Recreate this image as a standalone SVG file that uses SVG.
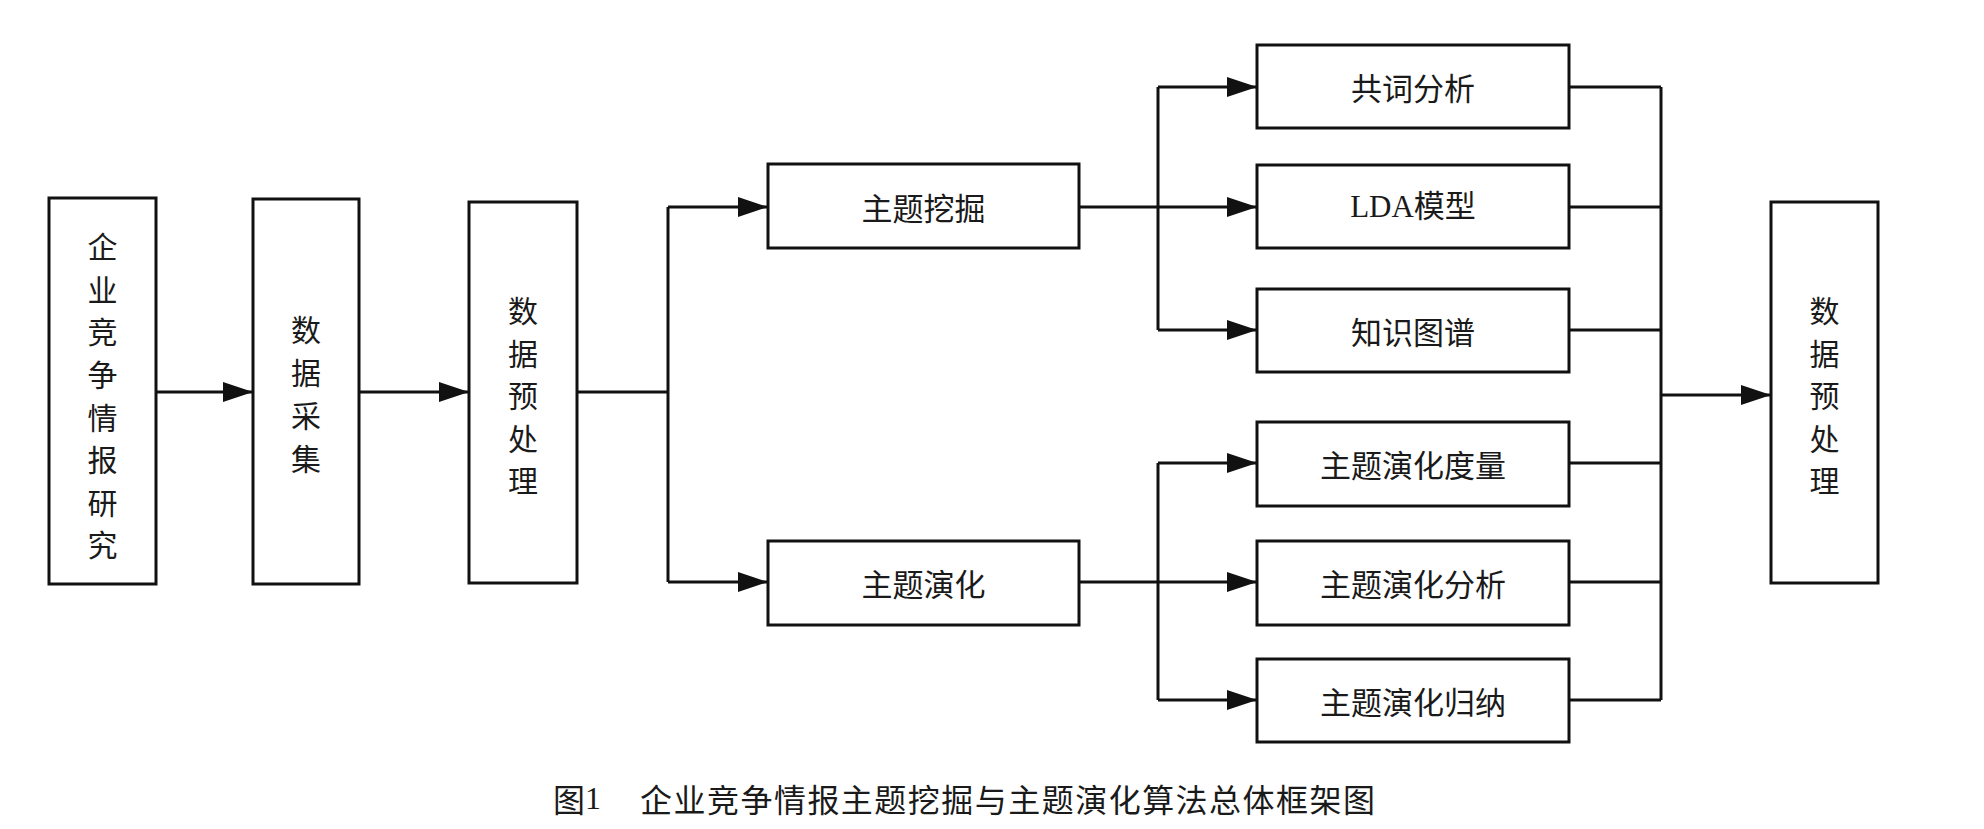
<svg xmlns="http://www.w3.org/2000/svg" width="1984" height="829" viewBox="0 0 1984 829">
  <style>
    .box { fill: #ffffff; stroke: #111111; stroke-width: 3; }
    .ln { fill: none; stroke: #111111; stroke-width: 3; }
    .arr { fill: none; stroke: #111111; stroke-width: 3; marker-end: url(#ah); }
    .t { font-family: "Noto Sans CJK SC", sans-serif; font-size: 31px; fill: #1a1a1a; text-anchor: middle; dominant-baseline: central; }
    .v { font-family: "Noto Sans CJK SC", sans-serif; font-size: 30px; fill: #1a1a1a; text-anchor: middle; dominant-baseline: central; }
    .lat { font-family: "Liberation Serif", "Noto Sans CJK SC", serif; }
    .cap { font-family: "Noto Sans CJK SC", sans-serif; font-size: 32px; fill: #1a1a1a; dominant-baseline: central; }
  </style>
  <defs>
    <marker id="ah" markerWidth="30" markerHeight="20" refX="30" refY="10" orient="auto" markerUnits="userSpaceOnUse">
      <path d="M0,0 L30,10 L0,20 Z" fill="#111111"/>
    </marker>
  </defs>
  <rect width="1984" height="829" fill="#ffffff"/>

  <g id="connectors">
    <line class="arr" x1="156" y1="392" x2="253" y2="392"/>
    <line class="arr" x1="359" y1="392" x2="469" y2="392"/>
    <line class="ln" x1="577" y1="392" x2="668" y2="392"/>
    <polyline class="ln" points="668,207 668,582"/>
    <line class="arr" x1="668" y1="207" x2="768" y2="207"/>
    <line class="arr" x1="668" y1="582" x2="768" y2="582"/>
    <polyline class="ln" points="1158,87 1158,330"/>
    <polyline class="ln" points="1158,463 1158,700"/>
    <line class="arr" x1="1079" y1="207" x2="1257" y2="207"/>
    <line class="arr" x1="1158" y1="87" x2="1257" y2="87"/>
    <line class="arr" x1="1158" y1="330" x2="1257" y2="330"/>
    <line class="arr" x1="1079" y1="582" x2="1257" y2="582"/>
    <line class="arr" x1="1158" y1="463" x2="1257" y2="463"/>
    <line class="arr" x1="1158" y1="700" x2="1257" y2="700"/>
    <polyline class="ln" points="1661,87 1661,700"/>
    <line class="ln" x1="1569" y1="87" x2="1661" y2="87"/>
    <line class="ln" x1="1569" y1="207" x2="1661" y2="207"/>
    <line class="ln" x1="1569" y1="330" x2="1661" y2="330"/>
    <line class="ln" x1="1569" y1="463" x2="1661" y2="463"/>
    <line class="ln" x1="1569" y1="582" x2="1661" y2="582"/>
    <line class="ln" x1="1569" y1="700" x2="1661" y2="700"/>
    <line class="arr" x1="1661" y1="395" x2="1771" y2="395"/>
  </g>

  <g id="n-research">
    <rect class="box" x="49" y="198" width="107" height="386"/>
    <text class="v" x="102.5" y="245">企</text>
    <text class="v" x="102.5" y="287.5">业</text>
    <text class="v" x="102.5" y="330">竞</text>
    <text class="v" x="102.5" y="373">争</text>
    <text class="v" x="102.5" y="415.5">情</text>
    <text class="v" x="102.5" y="458">报</text>
    <text class="v" x="102.5" y="500.5">研</text>
    <text class="v" x="102.5" y="543">究</text>
  </g>

  <g id="n-collect">
    <rect class="box" x="253" y="199" width="106" height="385"/>
    <text class="v" x="306" y="328">数</text>
    <text class="v" x="306" y="371">据</text>
    <text class="v" x="306" y="414">采</text>
    <text class="v" x="306" y="457">集</text>
  </g>

  <g id="n-preprocess">
    <rect class="box" x="469" y="202" width="108" height="381"/>
    <text class="v" x="523" y="309">数</text>
    <text class="v" x="523" y="351.5">据</text>
    <text class="v" x="523" y="394">预</text>
    <text class="v" x="523" y="436.5">处</text>
    <text class="v" x="523" y="479">理</text>
  </g>

  <g id="n-mining">
    <rect class="box" x="768" y="164" width="311" height="84"/>
    <text class="t" x="923.5" y="206">主题挖掘</text>
  </g>

  <g id="n-evolution">
    <rect class="box" x="768" y="541" width="311" height="84"/>
    <text class="t" x="923.5" y="582">主题演化</text>
  </g>

  <g id="n-coword">
    <rect class="box" x="1257" y="45" width="312" height="83"/>
    <text class="t" x="1413" y="86">共词分析</text>
  </g>

  <g id="n-lda">
    <rect class="box" x="1257" y="165" width="312" height="83"/>
    <text class="t lat" x="1413" y="206"><tspan font-family="Liberation Serif, serif">LDA</tspan>模型</text>
  </g>

  <g id="n-kg">
    <rect class="box" x="1257" y="289" width="312" height="83"/>
    <text class="t" x="1413" y="330">知识图谱</text>
  </g>

  <g id="n-measure">
    <rect class="box" x="1257" y="422" width="312" height="84"/>
    <text class="t" x="1413" y="463">主题演化度量</text>
  </g>

  <g id="n-analysis">
    <rect class="box" x="1257" y="541" width="312" height="84"/>
    <text class="t" x="1413" y="582">主题演化分析</text>
  </g>

  <g id="n-induction">
    <rect class="box" x="1257" y="659" width="312" height="83"/>
    <text class="t" x="1413" y="700">主题演化归纳</text>
  </g>

  <g id="n-output">
    <rect class="box" x="1771" y="202" width="107" height="381"/>
    <text class="v" x="1824.5" y="309">数</text>
    <text class="v" x="1824.5" y="351.5">据</text>
    <text class="v" x="1824.5" y="394">预</text>
    <text class="v" x="1824.5" y="436.5">处</text>
    <text class="v" x="1824.5" y="479">理</text>
  </g>

  <g id="caption">
    <text class="cap" x="553" y="798">图<tspan font-family="Liberation Serif, serif">1</tspan></text>
    <text class="cap" x="640" y="798" textLength="735" lengthAdjust="spacing">企业竞争情报主题挖掘与主题演化算法总体框架图</text>
  </g>
</svg>
